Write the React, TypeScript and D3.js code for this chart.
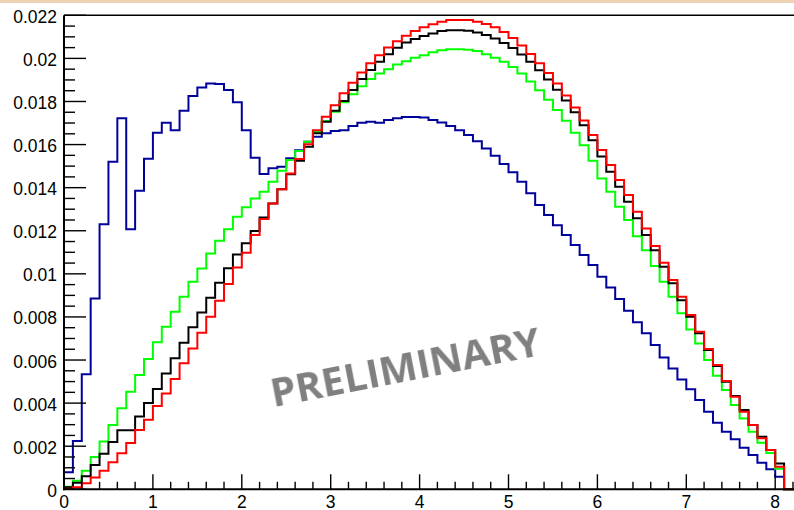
import React from "react";
import * as d3 from "d3";

// Histogram contents, bin width 0.1 starting at 0 (81 bins, 0 .. 8.1)
const blueCounts = [
  0.00079, 0.00224, 0.00534, 0.00886, 0.0123, 0.0152, 0.01722, 0.01207, 0.01386, 0.01534,
  0.01655, 0.01701, 0.01667, 0.01757, 0.01825, 0.01865, 0.01884, 0.01881, 0.01853, 0.01796,
  0.01667, 0.01539, 0.01463, 0.0149, 0.01497, 0.01536, 0.01574, 0.01613, 0.01636, 0.01652,
  0.01663, 0.01667, 0.01686, 0.01701, 0.01706, 0.01701, 0.01714, 0.01722, 0.01728, 0.01728,
  0.01726, 0.01714, 0.01703, 0.01686, 0.01667, 0.01644, 0.01616, 0.01582, 0.01548, 0.0151,
  0.01471, 0.01427, 0.01374, 0.01319, 0.01273, 0.01226, 0.0118, 0.01134, 0.01087, 0.01041,
  0.00987, 0.00937, 0.00883, 0.00829, 0.00775, 0.00724, 0.0067, 0.00612, 0.00561, 0.0051,
  0.00464, 0.00414, 0.0036, 0.00309, 0.00267, 0.00232, 0.00193, 0.00159, 0.00123, 0.00093,
  0.00058,
];

const greenCounts = [
  0.00012, 0.0004, 0.00086, 0.0015, 0.00222, 0.00298, 0.00376, 0.00453, 0.0053, 0.00605,
  0.00682, 0.00755, 0.00824, 0.00894, 0.00963, 0.01025, 0.01095, 0.01154, 0.01207, 0.01265,
  0.01309, 0.0135, 0.01381, 0.01427, 0.01478, 0.01528, 0.0157, 0.01613, 0.01659, 0.01709,
  0.01752, 0.01796, 0.01833, 0.01871, 0.01904, 0.0193, 0.0195, 0.01972, 0.01987, 0.02003,
  0.02015, 0.02028, 0.02038, 0.02043, 0.02043, 0.0204, 0.02034, 0.02019, 0.02003, 0.01984,
  0.0196, 0.0193, 0.01893, 0.01852, 0.01808, 0.0176, 0.0171, 0.01655, 0.01597, 0.01525,
  0.01443, 0.01381, 0.01311, 0.0125, 0.01175, 0.0111, 0.01036, 0.00963, 0.00894, 0.00817,
  0.00742, 0.00677, 0.006, 0.00527, 0.00461, 0.00391, 0.00329, 0.00267, 0.00216, 0.00168,
  0.00095,
];

const blackCounts = [
  0.0001, 0.0003, 0.0006, 0.00113, 0.00165, 0.0022, 0.00274, 0.00274, 0.00338, 0.004,
  0.00466, 0.00538, 0.00608, 0.0068, 0.00752, 0.00821, 0.00889, 0.00959, 0.01026, 0.0109,
  0.01142, 0.01199, 0.01262, 0.01327, 0.01393, 0.01462, 0.01525, 0.0159, 0.01652, 0.01706,
  0.01757, 0.01802, 0.01853, 0.01904, 0.01946, 0.01984, 0.02019, 0.02049, 0.02074, 0.0209,
  0.02104, 0.02116, 0.02127, 0.02131, 0.02131, 0.02128, 0.0212, 0.02108, 0.02092, 0.02072,
  0.02048, 0.02018, 0.01984, 0.01945, 0.01902, 0.01855, 0.01804, 0.0175, 0.0169, 0.0162,
  0.01545, 0.01474, 0.01404, 0.01335, 0.01258, 0.0118, 0.0111, 0.01033, 0.00956, 0.00878,
  0.00801, 0.00724, 0.00646, 0.00572, 0.00499, 0.00433, 0.00368, 0.00298, 0.00244, 0.00182,
  0.0012,
];

const redCounts = [
  0.00003, 0.0001, 0.00028, 0.00055, 0.00086, 0.00125, 0.00167, 0.00215, 0.00275, 0.00323,
  0.00387, 0.00445, 0.00512, 0.00585, 0.00654, 0.00727, 0.00801, 0.00875, 0.00953, 0.0103,
  0.01098, 0.0118, 0.01254, 0.01327, 0.01393, 0.01466, 0.01533, 0.01601, 0.01667, 0.01729,
  0.01783, 0.01838, 0.01887, 0.01935, 0.01977, 0.02015, 0.02051, 0.0208, 0.02105, 0.02127,
  0.02145, 0.02159, 0.0217, 0.02178, 0.02178, 0.02178, 0.0217, 0.0216, 0.02145, 0.02122,
  0.02095, 0.0206, 0.0202, 0.01978, 0.01932, 0.01883, 0.01828, 0.01772, 0.01712, 0.01645,
  0.01575, 0.01505, 0.01435, 0.01366, 0.01288, 0.01211, 0.01129, 0.01052, 0.00971, 0.00894,
  0.00809, 0.00731, 0.00651, 0.00577, 0.00503, 0.0043, 0.0036, 0.00298, 0.00237, 0.00182,
  0.00105,
];

const binWidth = 0.1;
const xMajorTicks = [0, 1, 2, 3, 4, 5, 6, 7, 8];
const yMajorTicks = [0, 0.002, 0.004, 0.006, 0.008, 0.01, 0.012, 0.014, 0.016, 0.018, 0.02, 0.022];
const yTickLabels = ["0", "0.002", "0.004", "0.006", "0.008", "0.01", "0.012", "0.014", "0.016", "0.018", "0.02", "0.022"];

// Draw order: later entries sit on top
const series = [
  { name: "blue", values: blueCounts, color: "#00009a" },
  { name: "green", values: greenCounts, color: "#00ff00" },
  { name: "black", values: blackCounts, color: "#000000" },
  { name: "red", values: redCounts, color: "#ff0000" },
];

const W = 794;
const H = 510;
const frameLeft = 64;
const frameTop = 15.3;
const frameBottom = 489.3;
const xMax = 8.6;
const yMax = 0.022;
const pxPerUnit = 88.9;

const labelFont = "'Liberation Sans', Arial, Helvetica, sans-serif";

export default function App() {
  const x = d3.scaleLinear().domain([0, xMax]).range([frameLeft, frameLeft + xMax * pxPerUnit]);
  const y = d3.scaleLinear().domain([0, yMax]).range([frameBottom, frameTop]);

  const line = d3
    .line<[number, number]>()
    .x((d) => x(d[0]))
    .y((d) => y(d[1]))
    .curve(d3.curveStepAfter);

  const histPath = (vals: number[]) => {
    const pts: [number, number][] = [[0, 0]];
    vals.forEach((v, k) => pts.push([k * binWidth, v]));
    pts.push([vals.length * binWidth, 0]);
    pts.push([xMax, 0]);
    return line(pts) || "";
  };

  const yMinor = d3.range(0, Math.round(yMax / 0.0005) + 1).map((i) => i * 0.0005);
  const xMinor = d3.range(0, Math.floor(xMax / 0.2) + 1).map((i) => i * 0.2);

  return (
    <svg
      width={W}
      height={H}
      viewBox={`0 0 ${W} ${H}`}
      style={{ position: "absolute", left: 0, top: 0, background: "#ffffff" }}
    >
      <defs>
        <filter id="soft" x="-10%" y="-30%" width="120%" height="160%">
          <feGaussianBlur stdDeviation="0.7" />
        </filter>
      </defs>
      <rect x={0} y={0} width={W} height={H} fill="#ffffff" />
      <rect x={0} y={0} width={W} height={3} fill="#ebd3b3" />

      {/* histograms */}
      {series.map((s) => (
        <path
          key={s.name}
          d={histPath(s.values)}
          fill="none"
          stroke={s.color}
          strokeWidth={2}
          strokeLinejoin="miter"
        />
      ))}

      {/* frame */}
      <line x1={frameLeft} x2={W} y1={frameTop} y2={frameTop} stroke="#000" strokeWidth={1.6} />
      <line x1={frameLeft} x2={frameLeft} y1={frameTop} y2={frameBottom + 1} stroke="#000" strokeWidth={2} />
      <line x1={frameLeft - 1} x2={W} y1={frameBottom} y2={frameBottom} stroke="#000" strokeWidth={2} />

      {/* y axis ticks */}
      {yMinor.map((v, i) => (
        <line
          key={"ym" + i}
          x1={frameLeft}
          x2={frameLeft + (i % 4 === 0 ? 22 : 11)}
          y1={y(v)}
          y2={y(v)}
          stroke="#000"
          strokeWidth={1.4}
        />
      ))}
      {yMajorTicks.map((v, i) => (
        <text
          key={"yl" + i}
          x={frameLeft - 7}
          y={y(v) + 1.5}
          textAnchor="end"
          dominantBaseline="central"
          fontFamily={labelFont}
          fontSize={17.5}
          fill="#000"
        >
          {yTickLabels[i]}
        </text>
      ))}

      {/* x axis ticks */}
      {xMinor.map((v, i) => (
        <line
          key={"xm" + i}
          x1={x(v)}
          x2={x(v)}
          y1={frameBottom}
          y2={frameBottom - (i % 5 === 0 ? 15 : 7.5)}
          stroke="#000"
          strokeWidth={1.4}
        />
      ))}
      {xMajorTicks.map((v) => (
        <text
          key={"xl" + v}
          x={x(v)}
          y={507.5}
          textAnchor="middle"
          fontFamily={labelFont}
          fontSize={17.5}
          fill="#000"
        >
          {v}
        </text>
      ))}

      {/* watermark */}
      <text
        x={408}
        y={381}
        textAnchor="middle"
        transform="rotate(-11 408 381)"
        fontFamily="'Open Sans', 'DejaVu Sans', sans-serif"
        fontWeight={700}
        fontSize={40}
        fill="#808080"
        textLength={274}
        lengthAdjust="spacingAndGlyphs"
        filter="url(#soft)"
      >
        PRELIMINARY
      </text>
    </svg>
  );
}
